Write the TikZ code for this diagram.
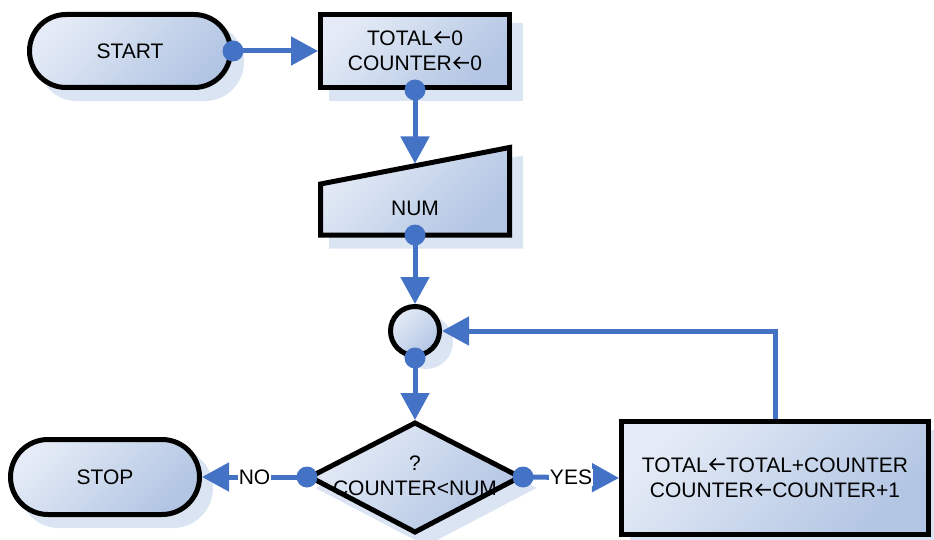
\documentclass[tikz,border=0pt]{standalone}
\usepackage{fontspec}
\setmainfont{Liberation Sans}
\usetikzlibrary{arrows.meta,shapes.misc,shadows}
\definecolor{cblue}{RGB}{68,114,196}
\definecolor{gtop}{RGB}{228,235,246}
\definecolor{gbot}{RGB}{178,197,227}
\definecolor{shb}{RGB}{219,228,242}
\newcommand\larr{\kern1pt\tikz[baseline=0pt]{\useasboundingbox (0pt,0pt) rectangle (17.5pt,1pt);
  \draw[black,line width=1.6pt,line cap=butt,line join=miter] (16pt,8.2pt) -- (1.5pt,8.2pt) (7.2pt,13.9pt) -- (1.5pt,8.2pt) -- (7.2pt,2.5pt);}}
\begin{document}
\begin{tikzpicture}[x=1pt,y=-1pt,
  font=\fontsize{21}{25.5}\selectfont,
  shp/.style={draw=black, line width=5pt, top color=gtop, bottom color=gbot, shading angle=45,
    general shadow={shadow xshift=11pt, shadow yshift=-11pt, fill=shb, draw=shb, line width=5pt}},
  conn/.style={draw=cblue, line width=5pt, -{Triangle[length=27pt,width=28pt]}},
  dot/.style={fill=cblue},
  lbl/.style={fill=white, inner sep=1pt}]
\useasboundingbox (0,0) rectangle (934,540);
% shapes
\node[shp, rounded rectangle, minimum width=201pt, minimum height=73pt, inner sep=0pt] (start) at (130,51) {START};
\node[shp, rectangle, minimum width=189pt, minimum height=73pt, align=center, inner sep=0pt] (init) at (415,51) {TOTAL\larr0\\COUNTER\larr0};
\draw[shp] (320.5,235) -- (509.5,235) -- (509.5,147.5) -- (320.5,184) -- cycle;
\node (num) at (415,208) {NUM};
\coordinate (numtop) at (415,163.5);
\coordinate (numbot) at (415,235);
\node[shp, circle, minimum size=49pt, inner sep=0pt] (join) at (415,331) {};
\draw[shp] (415,423) -- (520,477) -- (415,532) -- (310,477) -- cycle;
\coordinate (dtop) at (415,420);
\coordinate (dleft) at (307,477);
\coordinate (dright) at (523,477);
\node[align=center, inner sep=0pt] (cond) at (415,476) {?\\COUNTER<NUM};
\node[shp, rectangle, minimum width=307pt, minimum height=113pt, align=center, inner sep=0pt] (upd) at (775,478) {TOTAL\larr TOTAL+COUNTER\\COUNTER\larr COUNTER+1};
\node[shp, rounded rectangle, minimum width=189pt, minimum height=75pt, inner sep=0pt] (stop) at (105,477) {STOP};
% connectors
\draw[conn] (start.east) -- (init.west);
\draw[conn] (init.south) -- (numtop);
\draw[conn] (numbot) -- (join.north);
\draw[conn] (join.south) -- (dtop);
\draw[conn] (dleft) -- node[lbl] {NO} (stop.east);
\draw[conn] (dright) -- node[lbl] {YES} (upd.west);
\draw[conn] (upd.north) |- (join.east);
% dots
\fill[dot] (start.east) circle (10.5pt);
\fill[dot] (init.south) circle (10.5pt);
\fill[dot] (numbot) circle (10.5pt);
\fill[dot] (join.south) circle (10.5pt);
\fill[dot] (dleft) circle (10.5pt);
\fill[dot] (dright) circle (10.5pt);
\end{tikzpicture}
\end{document}
